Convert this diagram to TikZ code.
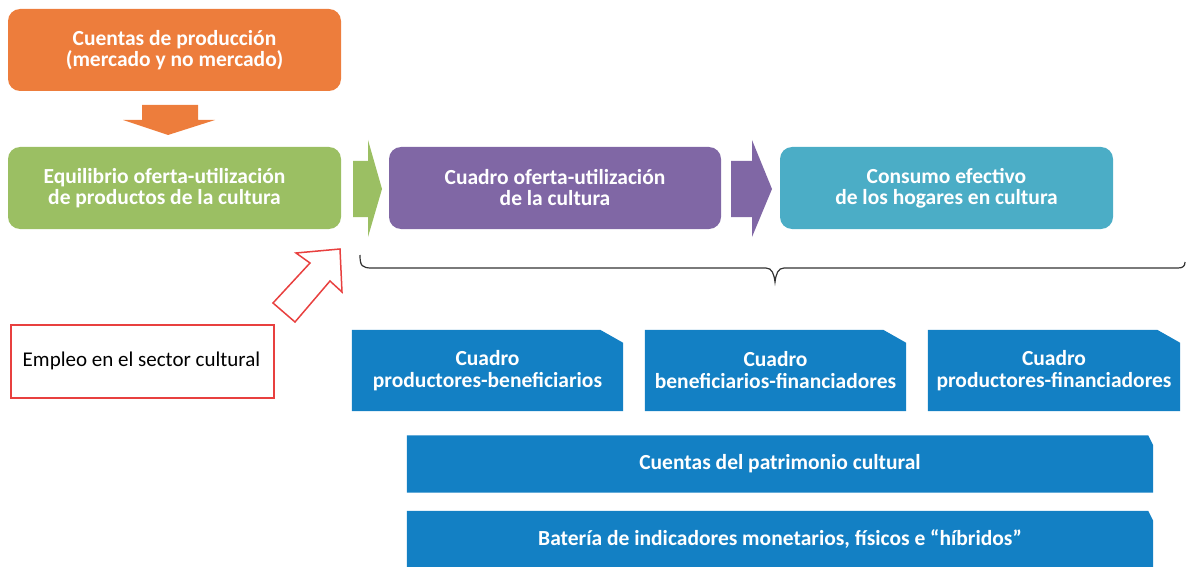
\documentclass[tikz,border=0pt]{standalone}
\usepackage{fontspec}
\setmainfont{Carlito}
\usepackage{tikz}
\usetikzlibrary{calc,backgrounds}
\usepackage{xcolor}
\definecolor{ProdOrange}{HTML}{ED7D3C}
\definecolor{EquilGreen}{HTML}{9BBF63}
\definecolor{CuadroPurple}{HTML}{8067A5}
\definecolor{ConsumoTeal}{HTML}{4BADC6}
\definecolor{TableBlue}{HTML}{1380C4}
\definecolor{EmpleoRed}{HTML}{E8403F}
\definecolor{BraceGray}{HTML}{333333}

\newcommand{\snipfill}[3]{%
    \fill[TableBlue] (#1.south west) |- ($(#1.north east)+(-#2,0)$)
        -- ($(#1.north east)+(0,#3)$) -- (#1.south east) -- cycle;}

\tikzset{
    block/.style={rounded corners=12pt, minimum width=333pt, minimum height=82pt,
        text=white, align=center, font=\bfseries\fontsize{21.5}{21}\selectfont},
    tablebox/.style={rectangle, minimum height=81pt, inner sep=0pt,
        text=white, align=center, font=\bfseries\fontsize{21.5}{22}\selectfont},
    bandbox/.style={tablebox, minimum width=746pt, minimum height=57pt}
}

\begin{document}
\begin{tikzpicture}[x=1pt,y=-1pt]
    \useasboundingbox (0,0) rectangle (1186,567);

    \node[block,fill=ProdOrange] (prod) at (174.5,50) {Cuentas de producción\\(mercado y no mercado)};
    \node[block,fill=EquilGreen] (equil) at (174.5,188) {\hspace*{-20pt}Equilibrio oferta-utilización\\\hspace*{-20pt}de productos de la cultura};
    \node[block,fill=CuadroPurple,minimum width=332pt] (cuadro) at (555,188) {Cuadro oferta-utilización\\de la cultura};
    \node[block,fill=ConsumoTeal] (consumo) at (946.5,188) {Consumo efectivo\\de los hogares en cultura};

    \fill[ProdOrange] (142,105) -- (198,105) -- (198,120) -- (215,120) -- (168,135) -- (123,120) -- (142,120) -- cycle;
    \fill[EquilGreen] (353,161) -- (368,161) -- (368,140) -- (382,189) -- (368,237) -- (368,217) -- (353,217) -- cycle;
    \fill[CuadroPurple] (731,161) -- (752,161) -- (752,140) -- (772,189) -- (752,237) -- (752,217) -- (731,217) -- cycle;

    \draw[BraceGray,line width=1.2pt] (360,255) .. controls (360,266) and (362,268) .. (372,268)
        -- (766,268) .. controls (772,268) and (774,274) .. (775,282)
        .. controls (776,274) and (778,268) .. (784,268)
        -- (1178,268) .. controls (1183,268) and (1185,266) .. (1185,262);

    \node[draw=EmpleoRed,line width=1.5pt,anchor=north west,text width=239pt,inner xsep=12pt,
        minimum height=73pt,align=flush left,font=\fontsize{21}{22}\selectfont] (empleo) at (10,324) {Empleo en el sector cultural};
    \draw[EmpleoRed,line width=1.5pt,line join=miter] (340,249) -- (342,292) -- (330,281) -- (295,322)
        -- (273,303) -- (310,263) -- (296,253) -- cycle;

    \node[tablebox,minimum width=271pt] (prodben) at (487.5,370.5) {Cuadro\\productores-beneficiarios};
    \node[tablebox,minimum width=261pt] (benfin) at (775.5,370.5) {Cuadro\\beneficiarios-financiadores};
    \node[tablebox,minimum width=252pt] (prodfin) at (1054,370.5) {Cuadro\\productores-financiadores};
    \node[bandbox] (patrimonio) at (780,464) {Cuentas del patrimonio cultural};
    \node[bandbox] (bateria) at (780,539.5) {Batería de indicadores monetarios, físicos e “híbridos”};

    \begin{scope}[on background layer]
        \snipfill{prodben}{23}{13}
        \snipfill{benfin}{23}{13}
        \snipfill{prodfin}{23}{13}
        \snipfill{patrimonio}{5}{10}
        \snipfill{bateria}{5}{10}
    \end{scope}
\end{tikzpicture}
\end{document}
